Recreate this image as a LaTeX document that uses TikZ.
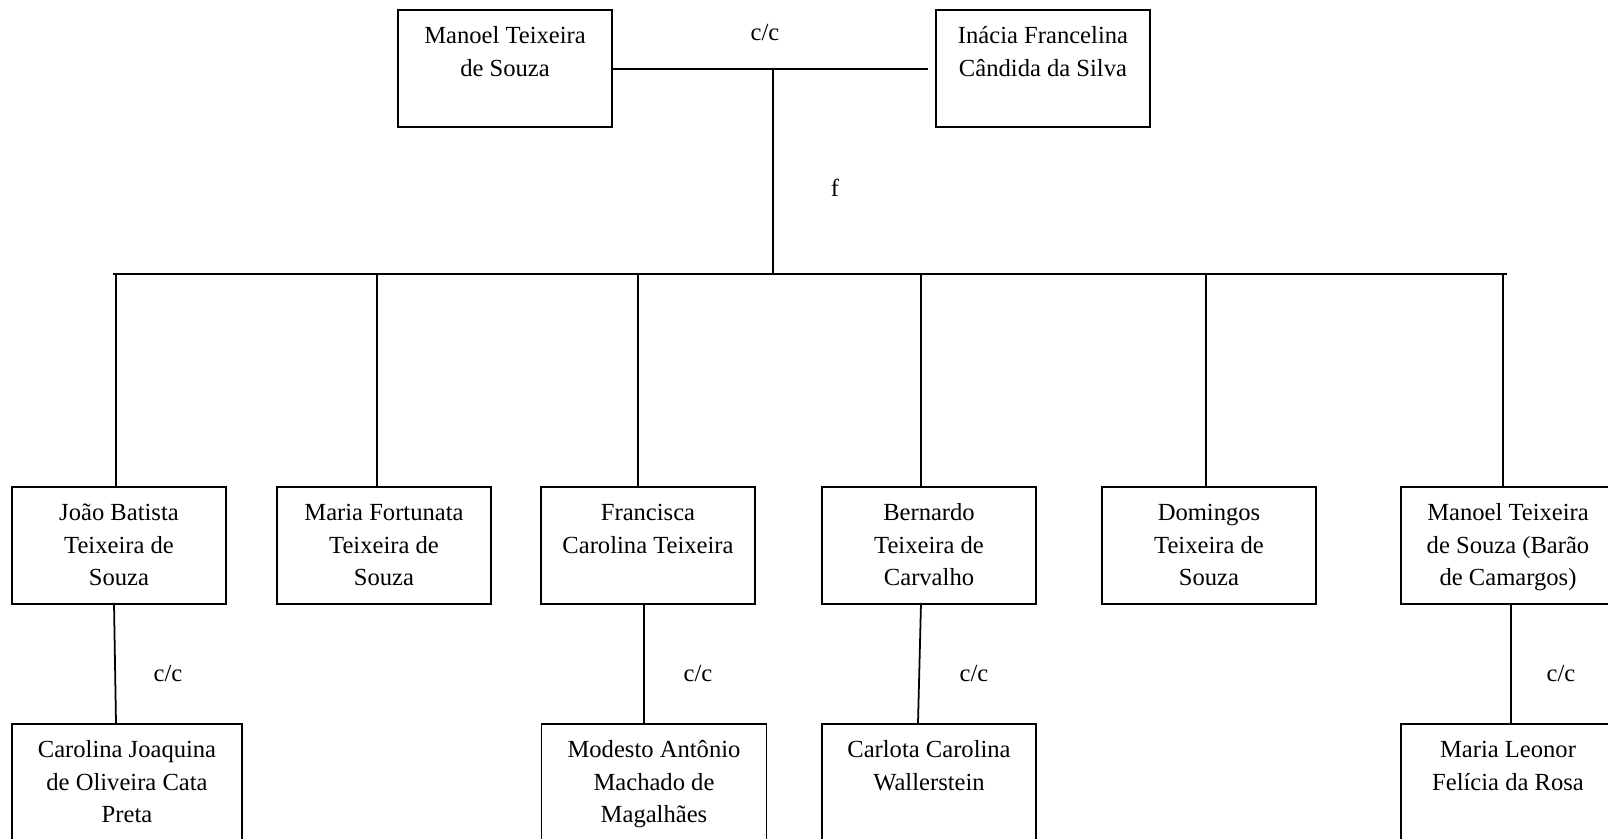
\documentclass[tikz,border=0pt]{standalone}
\usepackage{fontspec}
\setmainfont{Liberation Serif}

\tikzstyle{person}=[rectangle,draw,minimum width=4.28cm,minimum height=2.34cm,anchor=north,align=center,inner sep=0pt,text height=48.2pt,text depth=2pt]

\begin{document}
\begin{tikzpicture}[x=0.02cm,y=-0.02cm,line width=1pt,font=\fontsize{14}{18.6}\selectfont]
          \useasboundingbox (0,0) rectangle (1608,838);

          % casal
          \node (pai) at (505,9) [person] {Manoel Teixeira\\de Souza\\~};
          \node (mae) at (1043,9) [person] {Inácia Francelina\\Cândida da Silva\\~};
          \coordinate (casal) at (773,69);
          \coordinate (fim) at (928,69);
          \draw (pai.east |- casal) -- (fim);
          \node at (765,33) {c/c};
          \node at (835,188) {f};

          \coordinate (bar) at (773,274);
          \coordinate (barL) at (113,274);
          \coordinate (barR) at (1507,274);
          \draw (casal) -- (bar);
          \draw (barL) -- (barR);

          % filhos
          \foreach \n/\cx/\lx/\txt in {1/119/116/{João Batista\\Teixeira de\\Souza},
              2/384/377/{Maria Fortunata\\Teixeira de\\Souza},
              3/648/638/{Francisca\\Carolina Teixeira\\~},
              4/929/921/{Bernardo\\Teixeira de\\Carvalho},
              5/1209/1206/{Domingos\\Teixeira de\\Souza},
              6/1508/1503/{Manoel Teixeira\\de Souza (Barão\\de Camargos)}}{
            \node (f\n) at (\cx,486) [person] {\txt};
            \coordinate (t\n) at (\lx,274);
            \draw (t\n) -- (t\n |- f\n.north);
          }

          % conjuges
          \foreach \n/\cx/\w/\ax/\bx/\lx/\txt in {1/127/4.6cm/114/116/168/{Carolina Joaquina\\de Oliveira Cata\\Preta},
              3/654/4.5cm/644/644/698/{Modesto Antônio\\Machado de\\Magalhães},
              4/929/4.28cm/921/918/974/{Carlota Carolina\\Wallerstein\\~},
              6/1508/4.28cm/1511/1511/1561/{Maria Leonor\\Felícia da Rosa\\~}}{
            \node (c\n) at (\cx,723) [person,minimum width=\w] {\txt};
            \coordinate (s\n) at (\ax,603);
            \coordinate (e\n) at (\bx,723);
            \draw (s\n) -- (e\n);
            \node at (\lx,674) {c/c};
          }
        \end{tikzpicture}
\end{document}
